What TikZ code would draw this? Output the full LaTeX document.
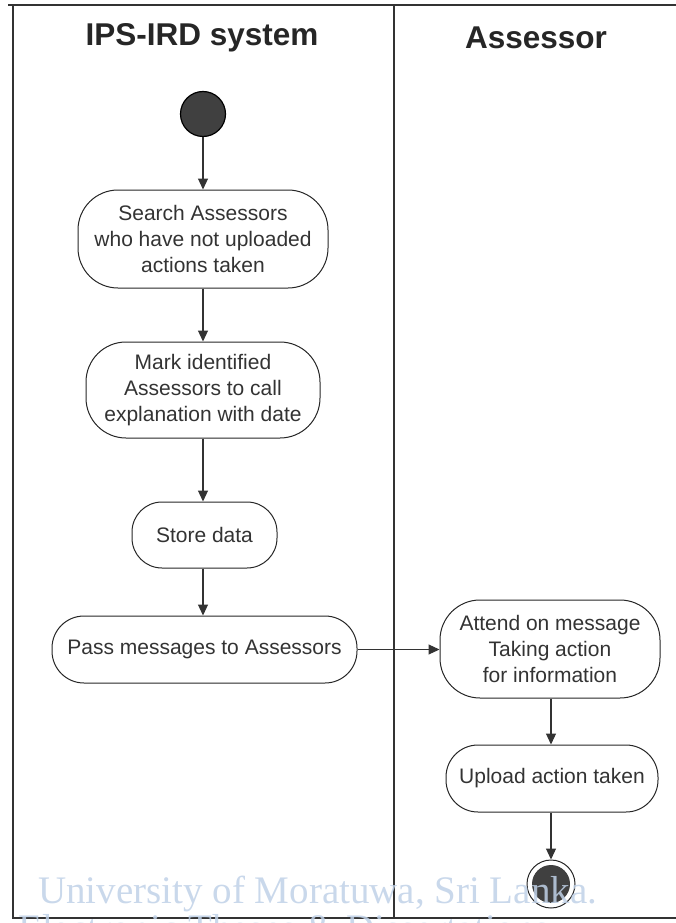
\documentclass[tikz,border=0pt]{standalone}
\usepackage{fontspec}
\setmainfont{Liberation Sans}
\newfontfamily\wmfont{Liberation Serif}
\usetikzlibrary{arrows.meta}
\definecolor{stampblue}{RGB}{192,209,231}
\begin{document}
\begin{tikzpicture}[x=1pt,y=-1pt,
  lane/.style={draw=black!80, line width=1.8pt},
  title/.style={font=\fontsize{31.5}{31.5}\selectfont\bfseries, text=black!85, inner sep=0pt},
  act/.style={draw=black!85, line width=1pt, rounded corners=#1, align=center,
    font=\fontsize{21}{26}\selectfont, text=black!80, inner sep=0pt},
  act/.default=40pt,
  arr/.style={draw=black!80, line width=1.1pt, -{Triangle[length=11pt,width=10pt]}},
  startdot/.style={circle, draw=black, line width=1.2pt, fill=black!75, minimum size=45pt, inner sep=0pt},
  endring/.style={circle, draw=black!85, line width=1pt, minimum size=48pt, inner sep=0pt},
  enddot/.style={circle, fill=black!75, minimum size=38pt, inner sep=0pt},
  stamptext/.style={text=stampblue, opacity=0.85, font=\wmfont\fontsize{39}{39}\selectfont, inner sep=0pt, anchor=base west}
]
\useasboundingbox (0,0) rectangle (676,923);
\clip (0,0) rectangle (676,923);

% swimlane frame
\draw[lane] (8,5) -- (676,5);
\draw[lane] (13,5) -- (13,918) -- (676,918);
\draw[lane] (394,5) -- (394,918);

% lane titles
\node[title] (laneA) at (202,38) {IPS-IRD system};
\node[title] (laneB) at (536,38) {Assessor};

% IPS-IRD system lane
\node[startdot] (start) at (203,114) {};
\node[act, minimum width=250pt, minimum height=98pt] (search) at (203,239)
  {Search Assessors\\who have not uploaded\\actions taken};
\node[act, minimum width=234pt, minimum height=96pt] (markid) at (203,390)
  {Mark identified\\Assessors to call\\explanation with date};
\node[act=30pt, minimum width=145pt, minimum height=66pt] (store) at (204.5,535)
  {Store data};
\node[act=32pt, minimum width=305pt, minimum height=67pt] (pass) at (204.5,649.5)
  {Pass messages to Assessors};

% Assessor lane
\node[act, minimum width=220pt, minimum height=98pt] (attend) at (550,649)
  {Attend on message\\Taking action\\for information};
\node[act=32pt, minimum width=212pt, minimum height=67pt] (upload) at (552,778.5)
  {Upload action taken};
\node[endring] (final) at (551,884) {};
\node[enddot] (finaldot) at (final) {};

% control flow
\draw[arr] (start) -- (start |- search.north);
\draw[arr] (start |- search.south) -- (start |- markid.north);
\draw[arr] (start |- markid.south) -- (start |- store.north);
\draw[arr] (start |- store.south) -- (start |- pass.north);
\draw[arr] (pass.east) -- (attend.west |- pass.east);
\draw[arr] (final |- attend.south) -- (final |- upload.north);
\draw[arr] (final |- upload.south) -- (final.north);

% repository stamp
\node[stamptext] (stamp1) at (38,903) {University of Moratuwa, Sri Lanka.};
\node[stamptext] (stamp2) at (18,941) {Electronic Theses \& Dissertations};
\end{tikzpicture}
\end{document}
